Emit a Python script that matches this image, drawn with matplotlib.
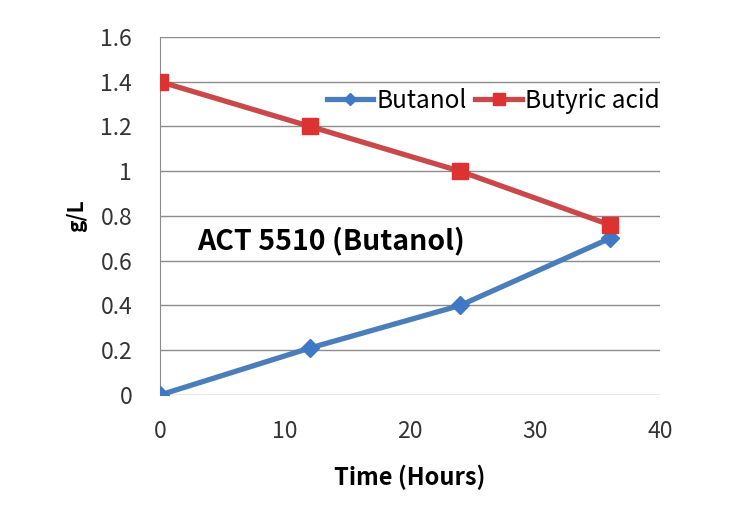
import matplotlib
matplotlib.use('Agg')
import matplotlib.pyplot as plt

# data
hours = [0, 12, 24, 36]
butanol = [0.0, 0.21, 0.40, 0.70]
butyric_acid = [1.40, 1.20, 1.00, 0.76]

fig = plt.figure(figsize=(7.45, 5.22), dpi=100)
ax = fig.add_axes([0.2148, 0.2433, 0.6711, 0.686])

ax.plot(hours, butanol, color='#4A7EBB', lw=3.8, marker='D', ms=9,
        mfc='#3F78C4', mec='#3F78C4', label='Butanol', zorder=3)
ax.plot(hours, butyric_acid, color='#C9484A', lw=3.8, marker='s', ms=12,
        mfc='#DC3232', mec='#DC3232', label='Butyric acid', zorder=3)

ax.set_xlim(0, 40)
ax.set_ylim(0, 1.6)
ax.set_xticks([0, 10, 20, 30, 40])
ax.set_yticks([0, 0.2, 0.4, 0.6, 0.8, 1.0, 1.2, 1.4, 1.6])
ax.set_yticklabels(['0', '0.2', '0.4', '0.6', '0.8', '1', '1.2', '1.4', '1.6'])
ax.grid(axis='y', color='#8C8C8C', lw=1)
ax.set_axisbelow(True)
for s in ['top', 'right', 'bottom']:
    ax.spines[s].set_visible(False)
ax.spines['left'].set_color('#8C8C8C')
ax.tick_params(length=0, labelsize=16.5, labelcolor='#333333',
               labelfontfamily='Noto Sans CJK KR')
ax.tick_params(axis='y', pad=20)
ax.tick_params(axis='x', pad=18)

ax.set_xlabel('Time (Hours)', fontsize=17, fontweight='bold',
              family='Noto Sans CJK KR', va='center')
ax.xaxis.set_label_coords(0.5, -0.229)
ax.set_ylabel('g/L', fontsize=15, fontweight='bold',
              family='Noto Sans CJK KR', va='center')
ax.yaxis.set_label_coords(-0.166, 0.5)

ax.text(0.074, 0.43, 'ACT 5510 (Butanol)', transform=ax.transAxes,
        fontsize=20.5, fontweight='bold', family='Noto Sans CJK KR', va='center')

ax.legend(loc='center right', bbox_to_anchor=(1.0, 0.821), ncol=2, frameon=False,
          handlelength=1.9, handletextpad=0.15, columnspacing=0.35,
          borderaxespad=0, borderpad=0, markerscale=0.7,
          prop={'family': 'Noto Sans CJK KR', 'size': 17.5})

fig.savefig('out.png', dpi=100)
